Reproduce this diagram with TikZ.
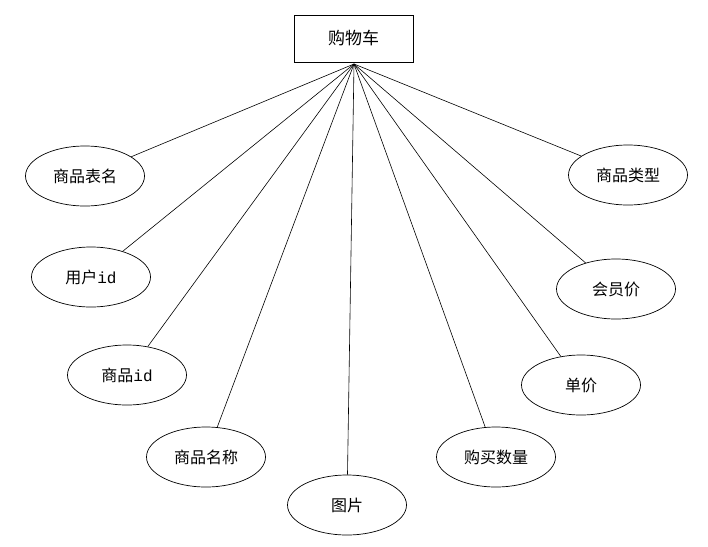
\documentclass[tikz,border=0pt]{standalone}
\usepackage{fontspec}
\setmainfont{Noto Sans CJK SC}
\setmonofont{Liberation Mono}
\usetikzlibrary{shapes.geometric}
\begin{document}
\begin{tikzpicture}[x=1pt,y=-1pt,
  attr/.style={draw,ellipse,line width=0.7pt,minimum width=119pt,minimum height=60pt,inner sep=0pt,font=\fontsize{16}{19}\selectfont},
  ent/.style={draw,rectangle,line width=0.8pt,minimum width=119pt,minimum height=47pt,inner sep=0pt,font=\fontsize{17}{20}\selectfont},
  link/.style={line width=0.6pt}]
\useasboundingbox[fill=white] (0,0) rectangle (708,546);
\node[ent] (cart) at (353.5,38.5) {购物车};
\coordinate (hub) at (354,64);
\node[attr] (a1) at (85,176) {商品表名};
\node[attr] (a2) at (91,277) {用户\texttt{id}};
\node[attr] (a3) at (127,375) {商品\texttt{id}};
\node[attr] (a4) at (206,457) {商品名称};
\node[attr] (a5) at (347,505) {图片};
\node[attr] (a6) at (496,457) {购买数量};
\node[attr] (a7) at (581,385) {单价};
\node[attr] (a8) at (616,289) {会员价};
\node[attr] (a9) at (628,175) {商品类型};
\foreach \n in {a1,a2,a3,a4,a5,a6,a7,a8,a9}
  \draw[link] (hub) -- (\n);
\end{tikzpicture}
\end{document}
